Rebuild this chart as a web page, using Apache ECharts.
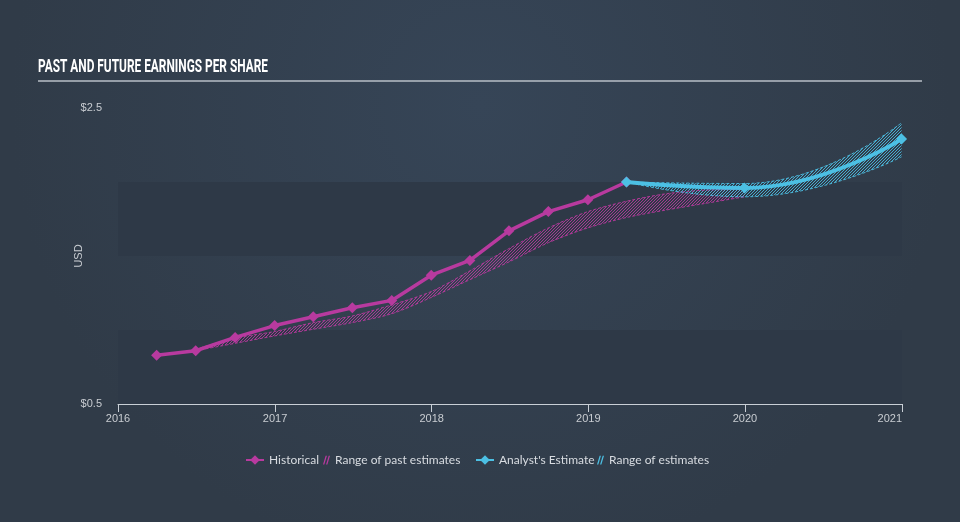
<!DOCTYPE html>
<html><head><meta charset="utf-8">
<script src="https://cdn.jsdelivr.net/npm/echarts@6/dist/echarts.min.js"></script>
<style>html,body{margin:0;padding:0;background:#333f4e}#c{width:960px;height:522px}</style>
</head><body><div id="c"></div>
<script>
// ---- data ----
const histDates = ['2016-03-31','2016-06-30','2016-09-30','2016-12-31','2017-03-31','2017-06-30','2017-09-30','2017-12-31','2018-03-31','2018-06-30','2018-09-30','2018-12-31','2019-03-31'];
const histEPS = [0.83,0.86,0.95,1.03,1.09,1.15,1.20,1.37,1.47,1.67,1.80,1.88,2.00];

const pastRangeDates = ['2016-06-30','2016-09-30','2016-12-31','2017-03-31','2017-06-30','2017-09-30','2017-12-31','2018-03-31','2018-06-30','2018-09-30','2018-12-31','2019-03-31','2019-06-30','2019-09-30','2019-12-31'];
const pastRangeHigh = [0.87,0.945,0.99,1.05,1.095,1.17,1.26,1.40,1.55,1.69,1.80,1.87,1.92,1.945,1.95];
const pastRangeLow  = [0.86,0.91,0.96,1.005,1.05,1.11,1.22,1.34,1.46,1.59,1.69,1.76,1.81,1.855,1.90];

const estDates = ['2019-03-31','2019-12-31','2020-12-31'];
const estEPS = [2.00,1.96,2.29];
const estHigh = [2.00,1.99,2.40];
const estLow  = [2.00,1.90,2.17];

const yTickLabels = {'0.5':'$0.5','2.5':'$2.5'};
const xMin = '2016-01-01', xMax = '2021-01-01';
const titleText = 'PAST AND FUTURE EARNINGS PER SHARE';

// ---- styling ----
const MAG = '#b83a9f', BLUE = '#4cc0e4';
function hatch(color){
  const c = document.createElement('canvas'); c.width = 3; c.height = 3;
  const g = c.getContext('2d'); g.strokeStyle = color; g.lineWidth = 0.9;
  g.beginPath(); g.moveTo(0,3); g.lineTo(3,0); g.moveTo(-1,1); g.lineTo(1,-1); g.moveTo(2,4); g.lineTo(4,2); g.stroke();
  return c;
}
const zip = (d, v) => d.map((x,i)=>[x, v[i]]);
const diff = (hi, lo) => hi.map((v,i)=>+(v-lo[i]).toFixed(4));
const hatchIcon = 'path://M0,10 L3,0 L4.5,0 L1.5,10 Z M3.5,10 L6.5,0 L8,0 L5,10 Z';

// condense title to reference width
const TITLE_FONT = 'bold 19px Roboto';
const mc = document.createElement('canvas').getContext('2d'); mc.font = TITLE_FONT;
const titleScale = 230 / mc.measureText(titleText).width;

const legendText = {color:'#d8dce1', fontFamily:'Lato', fontSize:12};
function legendAt(left, name, extra, w){
  return {left:left, top:449, itemGap:4, itemWidth:w, itemHeight:12, textStyle:legendText,
          data:[Object.assign({name:name}, extra)]};
}

const chart = echarts.init(document.getElementById('c'), null, {renderer:'canvas'});
chart.setOption({
  backgroundColor: {type:'radial', x:0.5, y:0.2, r:0.9, colorStops:[{offset:0,color:'#364557'},{offset:1,color:'#303b48'}]},
  animation:false,
  graphic:[
    {type:'text', left:38, top:58, scaleX:titleScale, originX:0,
     style:{text:titleText, fill:'#ffffff', font:TITLE_FONT}},
    {type:'line', shape:{x1:38,y1:81,x2:922,y2:81}, style:{stroke:'#b9bfc7', lineWidth:1.5}}
  ],
  legend:[
    legendAt(240, 'Historical', {}, 18),
    legendAt(318, 'Range of past estimates', {icon:hatchIcon, itemStyle:{color:MAG}}, 7),
    legendAt(470, "Analyst's Estimate", {}, 18),
    legendAt(592, 'Range of estimates', {icon:hatchIcon, itemStyle:{color:BLUE}}, 7)
  ],
  grid:{left:118, right:58, top:108, bottom:118},
  xAxis:{type:'time', min:xMin, max:xMax,
    minInterval:365*86400000, maxInterval:366*86400000,
    axisLine:{lineStyle:{color:'#c9cfd6', width:1}},
    axisTick:{show:true, length:8, lineStyle:{color:'#c9cfd6'}},
    axisLabel:{formatter:'{yyyy}', color:'#c9cdd2', fontSize:11, margin:9, showMaxLabel:true, showMinLabel:true, alignMaxLabel:'right', hideOverlap:false},
    splitLine:{show:false}},
  yAxis:{type:'value', min:0.5, max:2.5, interval:0.5,
    name:'USD', nameLocation:'middle', nameGap:34, nameMoveOverlap:false, nameTextStyle:{color:'#c9cdd2', fontSize:11},
    axisLine:{show:false}, axisTick:{show:false},
    axisLabel:{color:'#c9cdd2', fontSize:11, margin:16, formatter:v => yTickLabels[String(v)] || ''},
    splitLine:{show:false},
    splitArea:{show:true, areaStyle:{color:['#2e3947','rgba(0,0,0,0)']}}},
  series:[
    {name:'pastLow', type:'line', stack:'past', smooth:0.3, symbol:'none',
     data: zip(pastRangeDates, pastRangeLow),
     lineStyle:{color:MAG, width:1, type:[3,2], opacity:0.9}, z:1},
    {name:'Range of past estimates', type:'line', stack:'past', smooth:0.3, symbol:'none',
     data: zip(pastRangeDates, diff(pastRangeHigh, pastRangeLow)),
     itemStyle:{color:MAG},
     lineStyle:{color:MAG, width:1, type:[3,2], opacity:0.9},
     areaStyle:{color:{image:hatch('rgba(184,58,159,0.95)'), repeat:'repeat'}, opacity:1}, z:1},
    {name:'estLow', type:'line', stack:'fut', smooth:true, symbol:'none',
     data: zip(estDates, estLow),
     lineStyle:{color:BLUE, width:1, type:[3,2], opacity:0.9}, z:1},
    {name:'Range of estimates', type:'line', stack:'fut', smooth:true, symbol:'none',
     data: zip(estDates, diff(estHigh, estLow)),
     itemStyle:{color:BLUE},
     lineStyle:{color:BLUE, width:1, type:[3,2], opacity:0.9},
     areaStyle:{color:{image:hatch('rgba(76,192,228,0.95)'), repeat:'repeat'}, opacity:1}, z:1},
    {name:'Historical', type:'line', data: zip(histDates, histEPS),
     symbol:'diamond', symbolSize:11, itemStyle:{color:MAG},
     lineStyle:{color:MAG, width:3.5}, z:3},
    {name:"Analyst's Estimate", type:'line', smooth:true, data: zip(estDates, estEPS),
     symbol:'diamond', symbolSize:11, itemStyle:{color:BLUE},
     lineStyle:{color:BLUE, width:4}, z:4}
  ]
});
</script>
</body></html>
